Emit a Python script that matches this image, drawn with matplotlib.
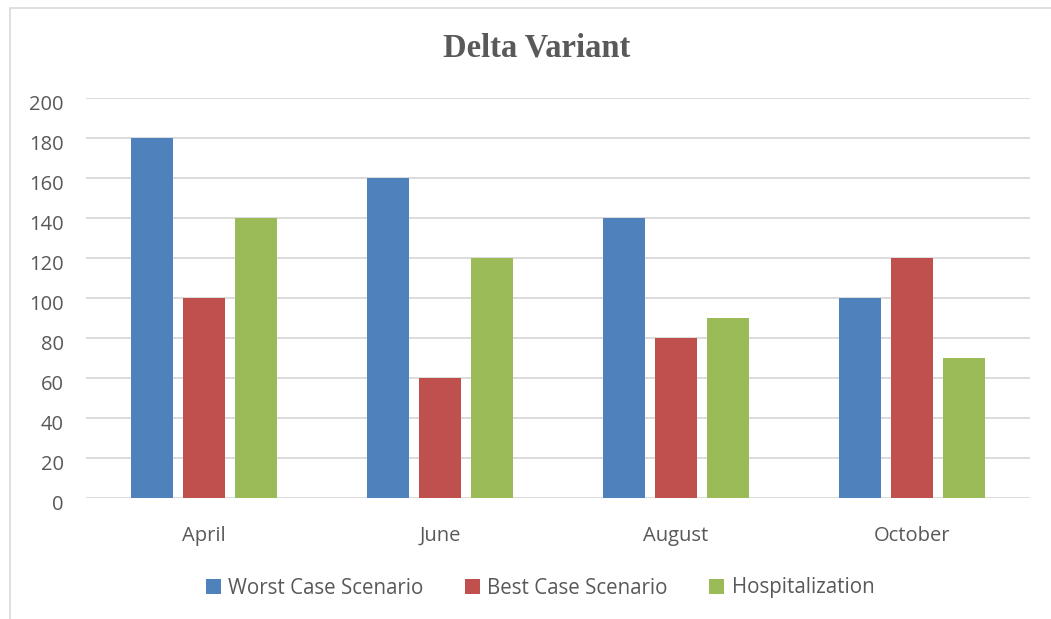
import matplotlib
matplotlib.use("Agg")
import matplotlib.pyplot as plt
import matplotlib.transforms as mtransforms
import numpy as np
from matplotlib.patches import Rectangle

# data
months = ["April", "June", "August", "October"]
worst_case = [180, 160, 140, 100]
best_case = [100, 60, 80, 120]
hospitalization = [140, 120, 90, 70]
series_names = ["Worst Case Scenario", "Best Case Scenario", "Hospitalization"]
colors = ["#4F81BD", "#C0504D", "#9BBB59"]
yticks = list(range(0, 201, 20))

plt.rcParams['font.family'] = ['Open Sans', 'DejaVu Sans']
txt = "#595959"

fig = plt.figure(figsize=(10.51, 6.19), dpi=100)
# outer chart border
fig.patches.append(Rectangle((10/1051, -0.05), 1.1, (619-8)/619 + 0.05, transform=fig.transFigure,
                             fill=False, edgecolor="#D9D9D9", linewidth=1.2))

ax = fig.add_axes([86/1051, 1-498/619, (1030-86)/1051, 400/619])

x = np.arange(len(months))
w = 0.178
step = 0.22
for i, vals in enumerate([worst_case, best_case, hospitalization]):
    ax.bar(x + (i-1)*step, vals, width=w, color=colors[i], label=series_names[i], zorder=3)

ax.set_xlim(-0.5, len(months)-0.5)
ax.set_ylim(0, 200)
ax.set_yticks(yticks)
ax.set_xticks(x)
ax.set_xticklabels(months)
ax.grid(axis='y', color="#D9D9D9", linewidth=1.3, zorder=0)
for s in ax.spines.values():
    s.set_visible(False)
ax.tick_params(axis='both', length=0, labelsize=14.5, colors=txt)
ax.tick_params(axis='y', pad=16)
ax.tick_params(axis='x', pad=20)
# labels sit a little below their gridlines
shift = mtransforms.ScaledTranslation(0, -5/100, fig.dpi_scale_trans)
for lb in ax.get_yticklabels():
    lb.set_transform(lb.get_transform() + shift)

fig.text(537/1051, 1-48/619, "Delta Variant", family=['Liberation Serif', 'DejaVu Serif'],
         fontweight='bold', fontsize=23.5, color=txt, ha='center', va='center')

leg = fig.legend(loc='center', bbox_to_anchor=(540/1051, 1-588/619), ncol=3, frameon=False,
                 fontsize=14.8, handlelength=0.75, handleheight=0.75, handletextpad=0.35,
                 columnspacing=2.0)
for t in leg.get_texts():
    t.set_color(txt)

fig.savefig("out.png", dpi=100)
